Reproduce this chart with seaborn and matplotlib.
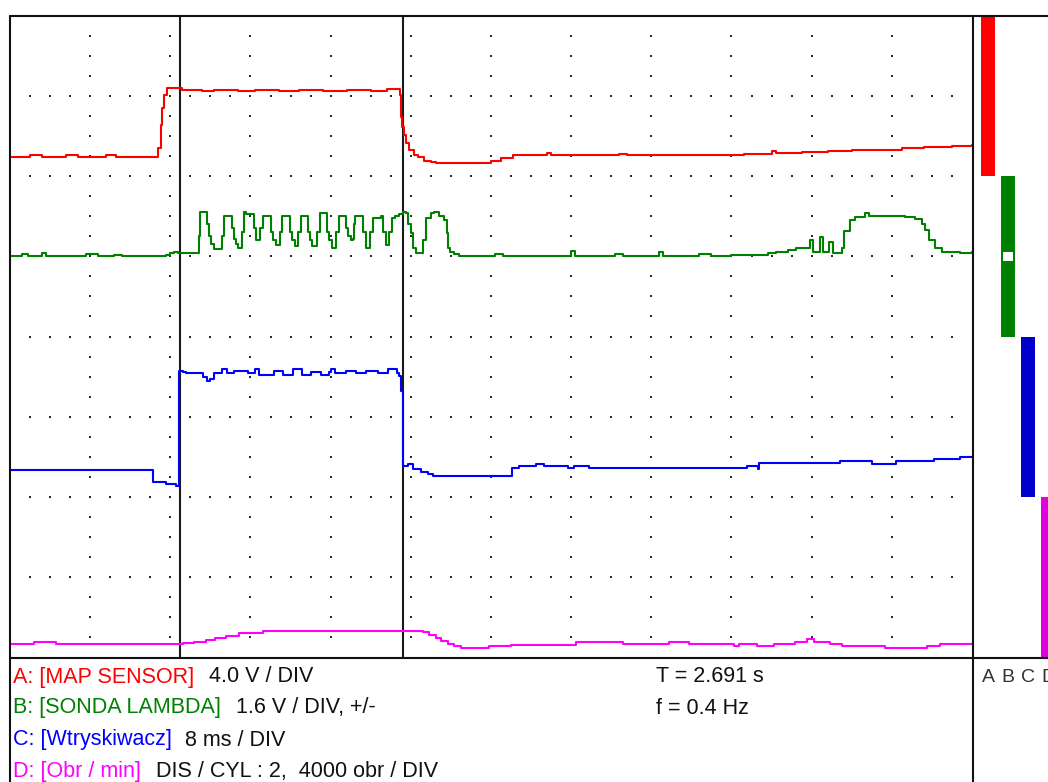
import numpy as np
import pandas as pd
import matplotlib
matplotlib.use("Agg")
import matplotlib.pyplot as plt
from matplotlib.lines import Line2D
from matplotlib.patches import Rectangle
import seaborn as sns

# ---- scope capture: time in screen divisions (12 across), level in divisions (8 high) ----
# A: MAP sensor
map_t = [0.00, 0.25, 0.25, 0.40, 0.40, 0.70, 0.70, 0.85, 0.85, 1.20, 1.20, 1.32, 1.32, 1.80,
         1.84, 1.88, 1.90, 1.92, 1.96, 2.15, 2.15, 2.40, 2.40, 2.55, 2.55, 2.85, 2.85, 3.05,
         3.05, 3.35, 3.35, 3.60, 3.60, 3.90, 3.90, 4.20, 4.20, 4.50, 4.50, 4.70, 4.70, 4.84,
         4.86, 4.875, 4.89, 4.91, 4.94, 4.975, 5.04, 5.09, 5.16, 5.25, 5.31, 5.94, 6.00, 6.125,
         6.275, 6.70, 6.75, 7.60, 7.70, 8.94, 9.16, 9.50, 9.56, 9.875, 10.20, 10.50, 10.80,
         11.125, 11.40, 11.75, 12.00]
map_v = [6.24, 6.24, 6.26, 6.26, 6.24, 6.24, 6.26, 6.26, 6.24, 6.24, 6.26, 6.26, 6.24, 6.24,
         6.35, 6.64, 6.85, 7.01, 7.10, 7.10, 7.08, 7.08, 7.06, 7.06, 7.08, 7.08, 7.06, 7.06,
         7.08, 7.08, 7.06, 7.06, 7.08, 7.08, 7.06, 7.06, 7.08, 7.08, 7.06, 7.06, 7.09, 7.09,
         7.01, 6.74, 6.61, 6.51, 6.41, 6.33, 6.26, 6.24, 6.19, 6.175, 6.16, 6.16, 6.19, 6.225,
         6.26, 6.29, 6.26, 6.28, 6.26, 6.27, 6.28, 6.31, 6.29, 6.30, 6.31, 6.325, 6.33,
         6.35, 6.36, 6.375, 6.39]

# B: lambda probe
lambda_t = [0.000, 0.150, 0.225, 0.400, 0.450, 0.950, 1.100, 1.300, 1.400, 1.900, 1.950, 2.000,
            2.050, 2.100,
            2.3625, 2.375, 2.4625, 2.4875, 2.5125, 2.55,
            2.65, 2.675, 2.775, 2.80, 2.825, 2.85,
            2.90, 2.925, 2.95, 3.0375, 3.0625,
            3.1125, 3.15, 3.25, 3.275, 3.3125,
            3.3625, 3.3875, 3.4875, 3.5125, 3.55,
            3.5875, 3.625, 3.7125, 3.7375, 3.7625,
            3.825, 3.8625, 3.95, 3.975, 4.0125,
            4.0625, 4.10, 4.1875, 4.2125, 4.25, 4.275,
            4.2875, 4.30, 4.375, 4.40, 4.4375,
            4.4875, 4.525, 4.625, 4.65, 4.6875,
            4.725, 4.7625, 4.80, 4.85, 4.90, 4.9375, 4.9625, 5.00, 5.025, 5.0625,
            5.15, 5.1875, 5.25, 5.2875, 5.35, 5.4125, 5.45, 5.4625, 5.4875, 5.5375, 5.60,
            6.05, 6.15, 7.00, 7.05, 7.55, 7.65, 8.10, 8.15, 8.60, 8.75, 9.00, 9.45, 9.55, 9.70,
            9.80, 9.90, 9.98, 10.02, 10.10, 10.14, 10.22, 10.26, 10.38, 10.40, 10.48, 10.54,
            10.66, 10.72, 11.00, 11.16, 11.29, 11.38, 11.41, 11.46, 11.54, 11.62, 11.80, 11.85,
            12.00]
lambda_v = [5.00, 5.03, 5.00, 5.04, 5.01, 5.03, 5.00, 5.02, 5.00, 5.01, 5.02, 5.04,
            5.06, 5.04,
            5.25, 5.56, 5.40, 5.25, 5.15, 5.09,
            5.25, 5.51, 5.35, 5.22, 5.15, 5.10,
            5.30, 5.55, 5.53, 5.35, 5.20,
            5.35, 5.50, 5.30, 5.20, 5.14,
            5.30, 5.51, 5.30, 5.20, 5.125,
            5.30, 5.51, 5.30, 5.20, 5.125,
            5.30, 5.54, 5.30, 5.20, 5.11,
            5.30, 5.50, 5.35, 5.25, 5.20, 5.22,
            5.40, 5.50, 5.51, 5.30, 5.11,
            5.30, 5.48, 5.50, 5.30, 5.14,
            5.30, 5.48, 5.50, 5.53, 5.55, 5.54, 5.40, 5.29, 5.10, 5.04,
            5.20, 5.475, 5.54, 5.56, 5.51, 5.45, 5.29, 5.11, 5.05, 5.025, 5.00,
            5.03, 5.00, 5.07, 5.00, 5.03, 5.00, 5.06, 5.01, 5.03, 5.01, 5.02, 5.04, 5.06, 5.08,
            5.10, 5.11, 5.20, 5.06, 5.24, 5.05, 5.18, 5.04, 5.11, 5.32, 5.45, 5.49,
            5.54, 5.51, 5.50, 5.49, 5.47, 5.41, 5.33, 5.20, 5.10, 5.05, 5.06, 5.04,
            5.05]

# C: injector pulse width
inj_t = [0.00, 1.79, 1.94, 2.075, 2.11, 2.16, 2.19, 2.41, 2.46, 2.50, 2.54, 2.60, 2.65, 2.71,
         2.79, 2.925, 2.975, 3.06, 3.11, 3.29, 3.41, 3.525, 3.64, 3.75, 3.875, 3.975, 4.00,
         4.06, 4.19, 4.31, 4.44, 4.56, 4.59, 4.66, 4.71, 4.79, 4.825, 4.85, 4.875, 4.90, 4.94,
         4.96, 5.01, 5.025, 5.10, 5.125, 5.19, 5.21, 5.275, 6.25, 6.26, 6.35, 6.56, 6.64, 6.66,
         6.94, 6.96, 7.04, 7.225, 9.19, 9.325, 9.34, 10.35, 10.75, 11.05, 11.525, 11.85, 12.00]
inj_v = [2.34, 2.19, 2.16, 2.14, 3.575, 3.56, 3.54, 3.49, 3.45, 3.475, 3.54, 3.55, 3.59, 3.54,
         3.575, 3.575, 3.54, 3.59, 3.525, 3.575, 3.525, 3.59, 3.525, 3.5625, 3.525, 3.5625, 3.59,
         3.54, 3.575, 3.54, 3.575, 3.575, 3.54, 3.54, 3.59, 3.59, 3.54, 3.51, 3.325, 2.39, 2.39,
         2.41, 2.41, 2.35, 2.35, 2.31, 2.31, 2.29, 2.26, 2.26, 2.36, 2.39, 2.41, 2.41, 2.39,
         2.39, 2.36, 2.39, 2.36, 2.39, 2.35, 2.425, 2.45, 2.41, 2.44, 2.475, 2.49, 2.49]

# D: engine speed
rpm_t = [0.00, 0.30, 0.575, 2.16, 2.30, 2.44, 2.56, 2.69, 2.86, 3.16, 5.11, 5.15, 5.225, 5.3125,
         5.375, 5.4625, 5.5375, 5.625, 5.975, 6.25, 7.0625, 7.65, 8.225, 8.475, 9.025, 9.0875,
         9.3125, 9.525, 9.7875, 9.9375, 10.025, 10.225, 10.375, 10.9125, 11.4375, 11.60, 12.00]
rpm_v = [0.1625, 0.1875, 0.1625, 0.175, 0.1875, 0.2125, 0.2375, 0.2625, 0.30, 0.325, 0.325,
         0.3125, 0.275, 0.2375, 0.20, 0.1625, 0.1375, 0.1125, 0.1375, 0.15, 0.1875, 0.1625,
         0.1875, 0.1625, 0.1375, 0.1625, 0.1375, 0.1625, 0.1875, 0.225, 0.1875, 0.1625, 0.1375,
         0.1125, 0.1375, 0.1625, 0.1625]

# cursors and channel windows
cursor_t = [2.125, 4.90]
channels = ["A", "B", "C", "D"]
window_bottom = [6.0, 4.0, 2.0, 0.0]
window_height = [2.0, 2.0, 2.0, 2.0]
lambda_zero = 5.0

palette = {"A": "#ff0000", "B": "#008000", "C": "#0000ff", "D": "#ff00ff"}
window_colors = ["#ff0000", "#008000", "#0000cc", "#e000e0"]

traces = pd.concat([
    pd.DataFrame({"t": map_t, "level": map_v, "channel": "A"}),
    pd.DataFrame({"t": lambda_t, "level": lambda_v, "channel": "B"}),
    pd.DataFrame({"t": inj_t, "level": inj_v, "channel": "C"}),
    pd.DataFrame({"t": rpm_t, "level": rpm_v, "channel": "D"}),
], ignore_index=True)

sns.set_theme(style="white")
plt.rcParams["font.family"] = ["Liberation Sans", "DejaVu Sans"]

W, H = 1048, 782
fig = plt.figure(figsize=(W / 100, H / 100), dpi=100)
fig.patch.set_facecolor("white")


def fx(px):
    return px / W


def fy(py):
    return 1 - py / H


left, right, top, bottom = 10, 972, 16, 657
ax = fig.add_axes([fx(left), fy(bottom), fx(right - left), (bottom - top) / H])
ax.set_xlim(0, 12)
ax.set_ylim(0, 8)
ax.set_facecolor("white")
for s in ax.spines.values():
    s.set_visible(False)
ax.set_xticks([])
ax.set_yticks([])

# dotted graticule along the major division lines
minor = np.arange(0.25, 12.0, 0.25)
minor_y = np.arange(0.25, 8.0, 0.25)
gx, gy = [], []
for xm in range(1, 12):
    gx.extend([xm] * len(minor_y))
    gy.extend(minor_y)
for ym in range(1, 8):
    gx.extend(minor)
    gy.extend([ym] * len(minor))
ax.scatter(gx, gy, s=1.8, marker="s", color="#2a2a2a", linewidths=0, zorder=1)

for c in cursor_t:
    ax.axvline(c, color="#1a1a1a", lw=1.5, zorder=2)

sns.lineplot(data=traces, x="t", y="level", hue="channel", hue_order=channels,
             palette=palette, estimator=None, sort=False, drawstyle="steps-post",
             linewidth=1.5, legend=False, ax=ax, zorder=3)
ax.set_xlabel("")
ax.set_ylabel("")

# channel window bars on the right
ax2 = fig.add_axes([fx(973), fy(bottom), fx(W - 973), (bottom - top) / H])
ax2.set_xlim(-0.735, 3.015)
ax2.set_ylim(0, 8)
ax2.bar(range(len(channels)), window_height, bottom=window_bottom, width=0.7,
        color=window_colors, linewidth=0, align="center")
ax2.add_patch(Rectangle((1 - 0.25, lambda_zero - 0.06), 0.5, 0.12, color="white", lw=0))
ax2.set_facecolor("white")
for s in ax2.spines.values():
    s.set_visible(False)
ax2.set_xticks([])
ax2.set_yticks([])

# frame lines
frame = dict(color="#111111", lw=1.5, transform=fig.transFigure, zorder=10)
fig.add_artist(Line2D([fx(10), fx(W)], [fy(16), fy(16)], **frame))
fig.add_artist(Line2D([fx(10), fx(W)], [fy(658), fy(658)], **frame))
fig.add_artist(Line2D([fx(10), fx(10)], [fy(16), fy(H)], **frame))
fig.add_artist(Line2D([fx(973), fx(973)], [fy(16), fy(H)], **frame))

# channel captions
fs = 15.5
rows = [677, 708, 740, 772]
captions = [
    ("A: [MAP SENSOR]", "4.0 V / DIV", 209),
    ("B: [SONDA LAMBDA]", "1.6 V / DIV, +/-", 236),
    ("C: [Wtryskiwacz]", "8 ms / DIV", 185),
    ("D: [Obr / min]", "DIS / CYL : 2,  4000 obr / DIV", 156),
]
for (name, scale, xs), ch, ry in zip(captions, channels, rows):
    fig.text(fx(13), fy(ry), name, color=palette[ch], fontsize=fs, va="center", ha="left")
    fig.text(fx(xs), fy(ry), scale, color="#111111", fontsize=fs, va="center", ha="left")

fig.text(fx(656), fy(677), "T = 2.691 s", color="#111111", fontsize=fs, va="center")
fig.text(fx(656), fy(708), "f = 0.4 Hz", color="#111111", fontsize=fs, va="center")

for i, ch in enumerate(channels):
    fig.text(fx(988 + 20 * i), fy(677), ch, color="#333333", fontsize=14,
             va="center", ha="center")

fig.savefig("out.png", dpi=100, facecolor="white")
